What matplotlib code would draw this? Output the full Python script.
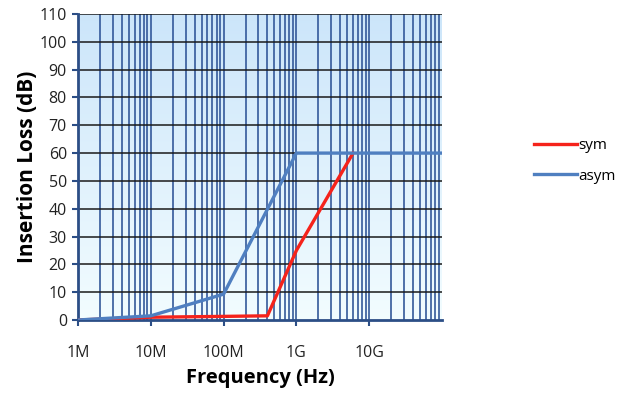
import numpy as np
import matplotlib
matplotlib.use("Agg")
import matplotlib.pyplot as plt
from matplotlib.ticker import FixedLocator, NullFormatter

# data
freq_sym = [1e6, 1e7, 1e8, 4e8, 1e9, 6e9]
loss_sym = [0, 1.0, 1.3, 1.5, 25, 60]
freq_asym = [1e6, 1e7, 1e8, 1e9, 1e11]
loss_asym = [0, 1.5, 9.3, 60, 60]
xtick_pos = [1e6, 1e7, 1e8, 1e9, 1e10]
xtick_lbl = ["1M", "10M", "100M", "1G", "10G"]

plt.rcParams["font.family"] = ["Open Sans", "DejaVu Sans"]

fig = plt.figure(figsize=(6.22, 3.95), dpi=100)
ax = fig.add_axes([78 / 622, 1 - 320 / 395, 364 / 622, 306 / 395])
ax.set_xscale("log")
ax.set_xlim(1e6, 1e11)
ax.set_ylim(0, 110)

# background gradient, light blue at top to almost white at bottom
grad = np.linspace(0, 1, 256).reshape(-1, 1)
top = np.array([0.80, 0.90, 0.98])
bot = np.array([0.95, 0.99, 1.0])
img = bot + (top - bot) * grad
ax.imshow(img[:, None, :].repeat(2, axis=1), extent=[0, 1, 0, 1], origin="lower",
          transform=ax.transAxes, aspect="auto", zorder=0)

# grid
minor = [m * 10.0 ** e for e in range(6, 11) for m in range(2, 10)]
for x in minor + xtick_pos[1:]:
    ax.axvline(x, color="#34599a", lw=1.2, zorder=1)
for y in range(10, 111, 10):
    ax.axhline(y, color="#1a1a1a", lw=1.1, zorder=1)

ax.plot(freq_sym, loss_sym, color="#f5231b", lw=2.4, label="sym", zorder=3)
ax.plot(freq_asym, loss_asym, color="#4f7fc0", lw=2.4, label="asym", zorder=3)

ax.xaxis.set_major_locator(FixedLocator(xtick_pos))
ax.set_xticklabels(xtick_lbl)
ax.xaxis.set_minor_formatter(NullFormatter())
ax.tick_params(axis="x", which="minor", length=0)
ax.tick_params(axis="x", which="major", direction="out", length=4, width=1.5,
               color="#2c4e86", pad=14, labelsize=11.5, labelcolor="#222222")
ax.set_yticks(range(0, 111, 10))
ax.tick_params(axis="y", direction="out", length=4, width=1.5, color="#2c4e86",
               labelsize=11.5, labelcolor="#222222", pad=4)

for s in ["left", "bottom"]:
    ax.spines[s].set_color("#2c4e86")
    ax.spines[s].set_linewidth(2)
for s in ["top", "right"]:
    ax.spines[s].set_visible(False)

ax.set_xlabel("Frequency (Hz)", fontsize=14.5, fontweight="bold", labelpad=5)
ax.set_ylabel("Insertion Loss (dB)", fontsize=15, fontweight="bold", labelpad=1)

ax.legend(loc="center left", bbox_to_anchor=(520 / 622, 1 - 161 / 395),
          bbox_transform=fig.transFigure, frameon=False, fontsize=11,
          handlelength=2.8, labelspacing=1.0, handletextpad=0.1)

fig.savefig("out.png", dpi=100)
